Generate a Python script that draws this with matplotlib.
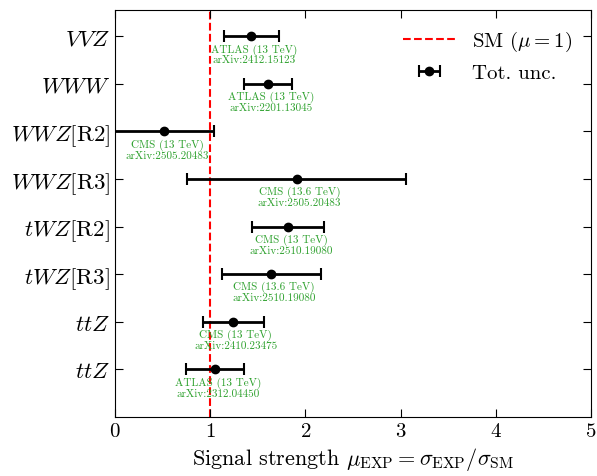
import matplotlib
matplotlib.use("Agg")
import matplotlib.pyplot as plt
import numpy as np

plt.rcParams['mathtext.fontset'] = 'cm'
plt.rcParams['font.family'] = 'serif'
plt.rcParams['font.serif'] = ['cmr10', 'DejaVu Serif']
plt.rcParams['axes.unicode_minus'] = False
plt.rcParams['axes.formatter.use_mathtext'] = True

labels = [r'$VVZ$', r'$WWW$', r'$WWZ[\mathrm{R2}]$', r'$WWZ[\mathrm{R3}]$',
          r'$tWZ[\mathrm{R2}]$', r'$tWZ[\mathrm{R3}]$', r'$ttZ$', r'$ttZ$']
mu = [1.43, 1.61, 0.52, 1.91, 1.82, 1.64, 1.24, 1.05]
err_lo = [0.29, 0.25, 0.60, 1.15, 0.38, 0.52, 0.32, 0.30]
err_hi = [0.29, 0.25, 0.52, 1.15, 0.38, 0.52, 0.32, 0.30]
notes = ['ATLAS (13 TeV)\narXiv:2412.15123',
         'ATLAS (13 TeV)\narXiv:2201.13045',
         'CMS (13 TeV)\narXiv:2505.20483',
         'CMS (13.6 TeV)\narXiv:2505.20483',
         'CMS (13 TeV)\narXiv:2510.19080',
         'CMS (13.6 TeV)\narXiv:2510.19080',
         'CMS (13 TeV)\narXiv:2410.23475',
         'ATLAS (13 TeV)\narXiv:2312.04450']

n = len(labels)
ypos = np.arange(n)[::-1]

fig = plt.figure(figsize=(5.97, 4.77), dpi=100)
ax = fig.add_axes([0.1926, 0.1237, 0.7974, 0.853])

ax.axvline(1, color='red', ls='--', lw=1.5, label=r'SM ($\mu=1$)', zorder=1)
ax.errorbar(mu, ypos, xerr=[err_lo, err_hi], fmt='o', color='black', ms=6,
            capsize=4, elinewidth=2, capthick=1.5, label='Tot. unc.', zorder=3)

for x, y, t in zip(mu, ypos, notes):
    ax.annotate(t, (x, y), xytext=(2, -5), textcoords='offset points',
                ha='center', va='top', fontsize=8, color='#2ca02c',
                linespacing=1.05, zorder=2)

ax.set_xlim(0, 5)
ax.set_ylim(-1, 7.55)
ax.set_yticks(ypos)
ax.set_yticklabels(labels, fontsize=16.5)
ax.set_xticks([0, 1, 2, 3, 4, 5])
ax.tick_params(axis='x', labelsize=15)
ax.tick_params(direction='in', top=True, right=True, length=6)
ax.set_xlabel(r'Signal strength $\mu_{\mathrm{EXP}} = \sigma_{\mathrm{EXP}}/\sigma_{\mathrm{SM}}$',
              fontsize=16)
ax.legend(loc='upper right', frameon=False, fontsize=15, handlelength=2.5)

fig.savefig('out.png', dpi=100)
